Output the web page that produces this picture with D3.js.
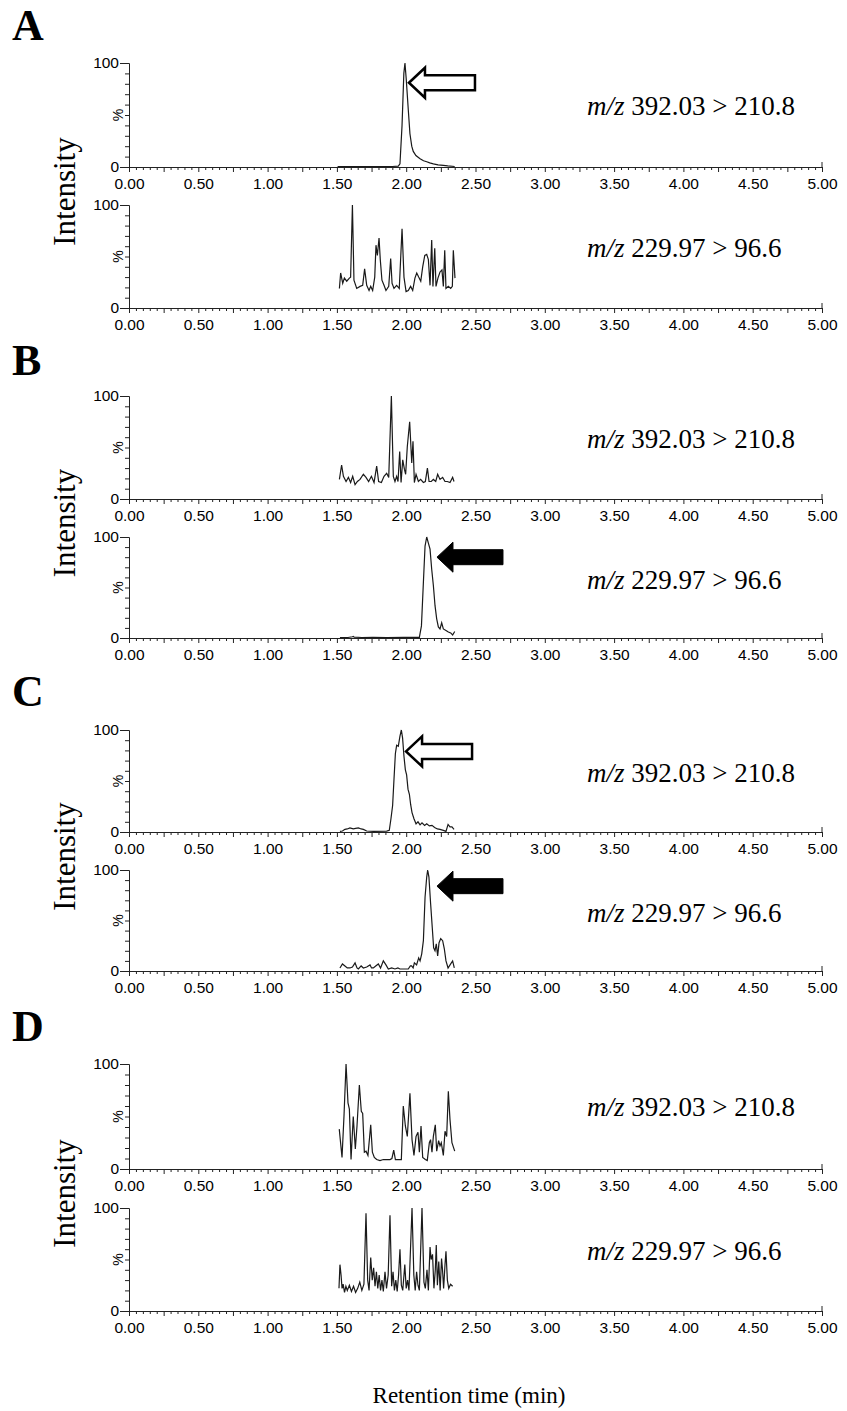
<!DOCTYPE html>
<html>
<head>
<meta charset="utf-8">
<title>MRM chromatograms A-D</title>
<script src="https://cdn.jsdelivr.net/npm/d3@7"></script>
<style>
  body { margin: 0; background: #fff; }
  .axis text { font-family: "Liberation Sans", Arial, sans-serif; font-size: 15.5px; fill: #000; }
  .axis path, .axis line { stroke: #222; stroke-width: 1; }
  .trace { fill: none; stroke: #1a1a1a; stroke-width: 1.2; }
  .serif, .serif tspan { font-family: "Liberation Serif", "Times New Roman", serif; fill: #000; }
</style>
</head>
<body>
<div id="chart"></div>
<script>
// values (time in min, intensity in %)
const panelLetters = ["A", "B", "C", "D"];
const transitions = ["392.03 > 210.8", "229.97 > 96.6"];
const xMajorTicks = [0, 0.5, 1, 1.5, 2, 2.5, 3, 3.5, 4, 4.5, 5];
const yLabelTicks = [0, 100];
const yMinorTicks = [0, 10, 20, 30, 40, 50, 60, 70, 80, 90, 100];

const traceA1 = [[1.505,0.3],[1.60,0.4],[1.70,0.3],[1.80,0.4],[1.90,0.5],[1.943,0.8],[1.955,3],[1.970,40],[1.983,90],[1.991,100],[2.000,85],[2.015,55],[2.027,32],[2.040,20],[2.051,15],[2.070,11],[2.100,8],[2.125,6],[2.148,5],[2.170,4],[2.196,3],[2.230,2],[2.268,1.5],[2.300,1],[2.350,0.5]];
const traceA2 = [[1.518,19],[1.527,34],[1.542,24],[1.554,29],[1.571,26],[1.590,29],[1.599,30],[1.612,100],[1.623,27],[1.643,19],[1.667,21],[1.686,22],[1.700,38],[1.715,22],[1.732,17],[1.744,21],[1.758,17],[1.773,30],[1.782,61],[1.792,51],[1.804,68],[1.813,47],[1.825,27],[1.840,22],[1.854,17],[1.874,21],[1.888,48],[1.898,24],[1.912,19],[1.931,22],[1.950,19],[1.970,77],[1.984,30],[1.999,16],[2.015,17],[2.032,21],[2.047,17],[2.063,29],[2.076,34],[2.090,30],[2.105,26],[2.119,40],[2.134,51],[2.148,52],[2.160,47],[2.172,22],[2.184,66],[2.193,21],[2.206,58],[2.215,21],[2.229,29],[2.244,35],[2.258,37],[2.268,21],[2.278,56],[2.287,19],[2.304,21],[2.321,19],[2.333,21],[2.340,56],[2.352,29]];
const traceB1 = [[1.518,19],[1.534,33],[1.547,22],[1.566,17],[1.583,21],[1.599,16],[1.614,22],[1.631,14],[1.648,17],[1.667,19],[1.691,24],[1.710,21],[1.729,17],[1.749,22],[1.768,16],[1.787,32],[1.801,17],[1.821,16],[1.840,22],[1.859,25],[1.874,21],[1.893,100],[1.907,22],[1.919,17],[1.931,22],[1.941,17],[1.953,46],[1.963,16],[1.975,38],[1.987,29],[1.996,24],[2.008,51],[2.025,75],[2.040,35],[2.049,56],[2.059,16],[2.071,24],[2.088,17],[2.104,19],[2.124,16],[2.138,17],[2.153,30],[2.165,17],[2.181,17],[2.196,19],[2.213,17],[2.227,24],[2.244,19],[2.263,21],[2.280,17],[2.297,17],[2.316,16],[2.335,21],[2.345,17]];
const traceB2 = [[1.522,0.4],[1.580,0.5],[1.612,1.2],[1.618,1.6],[1.625,0.8],[1.680,0.5],[1.760,0.6],[1.860,0.5],[1.980,0.6],[2.095,0.7],[2.110,12],[2.124,55],[2.136,91],[2.148,100],[2.160,94],[2.172,88],[2.184,68],[2.196,52],[2.208,32],[2.220,19],[2.232,11],[2.244,9],[2.256,15],[2.268,9],[2.287,7.5],[2.304,6],[2.321,5],[2.335,3],[2.350,6.5]];
const traceC1 = [[1.522,0.6],[1.540,1],[1.558,2.6],[1.575,3],[1.594,4],[1.618,3],[1.635,3.5],[1.655,4],[1.675,3],[1.691,2.6],[1.715,1],[1.763,0.6],[1.859,0.9],[1.878,1.6],[1.890,13],[1.902,26],[1.912,52],[1.922,77],[1.931,85],[1.943,84],[1.955,94],[1.965,100],[1.974,92],[1.984,74],[1.994,61],[2.003,56],[2.013,42],[2.023,37],[2.032,27],[2.042,19],[2.056,13],[2.071,8],[2.085,10],[2.100,7],[2.114,9],[2.133,6.5],[2.148,8],[2.167,6],[2.186,6.5],[2.205,4.5],[2.225,3],[2.244,2.6],[2.268,1.6],[2.287,0.6],[2.302,7.4],[2.316,5],[2.330,5],[2.345,2.6]];
const traceC2 = [[1.522,3],[1.540,7],[1.558,5],[1.575,3],[1.594,3],[1.612,4],[1.631,8],[1.645,3],[1.655,2],[1.675,5],[1.691,3],[1.715,4],[1.739,6],[1.750,3],[1.763,3],[1.780,5],[1.799,7],[1.815,3],[1.835,10],[1.854,6],[1.871,2],[1.895,3],[1.919,2],[1.940,3],[1.955,2],[1.985,2],[2.015,2],[2.030,5],[2.039,5],[2.050,3],[2.059,8],[2.075,6],[2.090,13],[2.100,10],[2.112,17],[2.124,30],[2.136,73],[2.148,93],[2.155,100],[2.164,93],[2.176,67],[2.188,43],[2.198,23],[2.208,20],[2.217,27],[2.227,15],[2.237,28],[2.249,32],[2.263,30],[2.275,22],[2.287,10],[2.302,3],[2.321,7],[2.335,10],[2.347,3]];
const traceD1 = [[1.517,38],[1.537,11],[1.551,50],[1.566,100],[1.580,63],[1.590,57],[1.602,9],[1.618,50],[1.633,19],[1.645,41],[1.662,80],[1.676,55],[1.686,53],[1.698,16],[1.710,17],[1.724,13],[1.744,42],[1.756,16],[1.770,11],[1.787,9],[1.811,8],[1.835,9],[1.859,9],[1.883,9],[1.897,10],[1.910,18],[1.922,9],[1.943,9],[1.965,9],[1.979,60],[1.994,41],[2.008,31],[2.027,72],[2.042,28],[2.056,13],[2.071,31],[2.085,35],[2.095,16],[2.107,41],[2.119,11],[2.138,9],[2.152,8],[2.167,25],[2.176,28],[2.186,16],[2.196,31],[2.210,42],[2.220,17],[2.234,27],[2.244,22],[2.253,25],[2.268,13],[2.280,36],[2.292,31],[2.304,74],[2.316,47],[2.330,25],[2.350,17]];
const traceD2 = [[1.515,22],[1.522,45],[1.530,35],[1.537,22],[1.545,26],[1.555,18],[1.565,24],[1.575,20],[1.590,25],[1.605,19],[1.620,24],[1.635,18],[1.650,22],[1.665,28],[1.680,20],[1.695,26],[1.710,95],[1.722,30],[1.732,20],[1.744,52],[1.755,30],[1.765,42],[1.775,24],[1.785,38],[1.795,22],[1.805,35],[1.815,20],[1.825,30],[1.835,19],[1.847,38],[1.858,22],[1.870,35],[1.883,93],[1.895,24],[1.905,38],[1.915,20],[1.925,30],[1.935,19],[1.945,35],[1.955,60],[1.965,25],[1.975,20],[1.990,45],[2.000,22],[2.010,30],[2.020,20],[2.042,100],[2.055,35],[2.065,20],[2.075,38],[2.085,25],[2.095,20],[2.114,100],[2.128,28],[2.138,22],[2.150,40],[2.160,20],[2.172,62],[2.180,50],[2.190,55],[2.200,22],[2.210,40],[2.217,64],[2.225,25],[2.235,48],[2.245,20],[2.255,51],[2.262,40],[2.270,22],[2.280,45],[2.287,58],[2.297,30],[2.307,22],[2.320,26],[2.335,24]];

const panelTraces = [[traceA1, traceA2], [traceB1, traceB2], [traceC1, traceC2], [traceD1, traceD2]];

// arrow annotations: panel, row, tip time, tip intensity
const arrowMarks = [
    { panel: 0, row: 0, t: 2.020, pct: 81, filled: false },
    { panel: 1, row: 1, t: 2.222, pct: 80, filled: true },
    { panel: 2, row: 0, t: 1.999, pct: 79, filled: false },
    { panel: 2, row: 1, t: 2.222, pct: 84, filled: true }
];

// layout (pixels)
const width = 847, height = 1411;
const rowTops = [[63, 205], [396, 537], [730, 870], [1064, 1208]];
const rowBottoms = [[167, 308], [499, 638], [832, 971], [1169, 1311]];
const letterBaselines = [40, 375, 706, 1041];
const serifFont = "Liberation Serif, Times New Roman, serif";

const svg = d3.select("#chart")
    .append("svg")
    .attr("width", width)
    .attr("height", height);

const x = d3.scaleLinear().domain([0, 5]).range([129, 822]);

const line = (yScale) => d3.line()
    .x(d => x(d[0]))
    .y(d => yScale(d[1]));

const minor = d3.range(0, 101).map(i => i * 0.05).filter(v => Math.round(v * 100) % 25 !== 0);
const quarter = d3.range(0, 21).map(i => i * 0.25).filter(v => Math.round(v * 100) % 50 !== 0);

const arrowPath = "M0,0 L16,-15 L16,-7.5 L66,-7.5 L66,7.5 L16,7.5 L16,15 Z";

panelTraces.forEach((traces, p) => {
    svg.append("text")
        .attr("class", "serif")
        .attr("font-family", serifFont)
        .attr("x", 12)
        .attr("y", letterBaselines[p])
        .attr("font-size", 44)
        .attr("font-weight", "bold")
        .text(panelLetters[p]);

    const midY = (rowTops[p][0] + rowBottoms[p][1]) / 2 + 6;
    svg.append("text")
        .attr("class", "serif")
        .attr("font-family", serifFont)
        .attr("transform", `translate(75,${midY}) rotate(-90)`)
        .attr("text-anchor", "middle")
        .attr("font-size", 31)
        .text("Intensity");

    traces.forEach((data, r) => {
        const top = rowTops[p][r], bottom = rowBottoms[p][r];
        const y = d3.scaleLinear().domain([0, 100]).range([bottom, top]);
        const g = svg.append("g");

        // x axis: labelled majors, quarter and minor ticks
        g.append("g")
            .attr("class", "axis")
            .attr("transform", `translate(0,${bottom})`)
            .call(d3.axisBottom(x).tickValues(minor).tickSize(3).tickSizeOuter(0).tickFormat(""));
        g.append("g")
            .attr("class", "axis")
            .attr("transform", `translate(0,${bottom})`)
            .call(d3.axisBottom(x).tickValues(quarter).tickSize(5).tickSizeOuter(0).tickFormat(""));
        g.append("g")
            .attr("class", "axis")
            .attr("transform", `translate(0,${bottom})`)
            .call(d3.axisBottom(x).tickValues(xMajorTicks).tickSize(5).tickPadding(6).tickSizeOuter(0).tickFormat(d3.format(".2f")));
        g.append("line")
            .attr("x1", x(5)).attr("x2", x(5))
            .attr("y1", bottom).attr("y2", bottom - 5)
            .attr("stroke", "#222");

        // y axis
        g.append("g")
            .attr("class", "axis")
            .attr("transform", `translate(${x(0)},0)`)
            .call(d3.axisLeft(y).tickValues(yMinorTicks).tickSize(4).tickSizeOuter(0).tickFormat(""));
        g.append("g")
            .attr("class", "axis")
            .attr("transform", `translate(${x(0)},0)`)
            .call(d3.axisLeft(y).tickValues(yLabelTicks).tickSize(9).tickPadding(1).tickSizeOuter(0));
        g.append("text")
            .attr("transform", `translate(123,${(top + bottom) / 2}) rotate(-90)`)
            .attr("text-anchor", "middle")
            .attr("font-family", "Liberation Sans, Arial, sans-serif")
            .attr("font-size", 14)
            .text("%");

        g.append("path")
            .datum(data)
            .attr("class", "trace")
            .attr("d", line(y));

        const label = g.append("text")
            .attr("class", "serif")
            .attr("font-family", serifFont)
            .attr("x", 587)
            .attr("y", top + 52)
            .attr("font-size", 27);
        label.append("tspan").attr("font-style", "italic").text("m/z");
        label.append("tspan").text(" " + transitions[r]);

        arrowMarks.filter(a => a.panel === p && a.row === r).forEach(a => {
            g.append("path")
                .attr("d", arrowPath)
                .attr("transform", `translate(${x(a.t)},${y(a.pct)})`)
                .attr("fill", a.filled ? "#000" : "#fff")
                .attr("stroke", "#000")
                .attr("stroke-width", a.filled ? 1 : 2.5)
                .attr("stroke-linejoin", "miter");
        });
    });
});

svg.append("text")
    .attr("class", "serif")
    .attr("font-family", serifFont)
    .attr("x", 469)
    .attr("y", 1403)
    .attr("text-anchor", "middle")
    .attr("font-size", 23)
    .text("Retention time (min)");
</script>
</body>
</html>
